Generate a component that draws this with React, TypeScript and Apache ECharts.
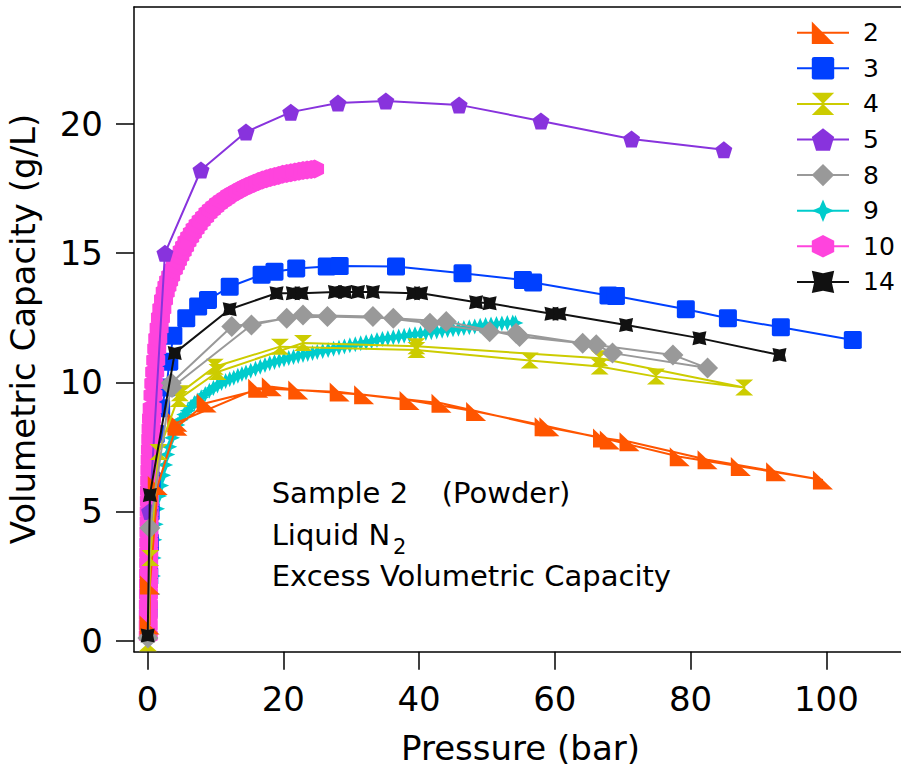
import React, { useEffect, useRef } from 'react';
import * as echarts from 'echarts';

// ---------- data ----------
const seriesNames = ['2', '3', '4', '5', '8', '9', '10', '14'];
const xTicks = [0, 20, 40, 60, 80, 100];
const yTicks = [0, 5, 10, 15, 20];

const s2: number[][] = [
  [0.3, 0.6], [0.35, 2.15], [1.5, 6.0], [4.4, 8.45], [16.3, 9.77], [28.3, 9.62], [38.6, 9.3],
  [48.4, 8.87], [59.2, 8.28], [68.1, 7.77], [78.4, 7.12], [87.4, 6.74], [99.5, 6.22],
  [92.6, 6.54], [82.5, 7.0], [71.0, 7.7], [67.1, 7.84], [58.5, 8.28], [43.3, 9.19],
  [31.9, 9.52], [22.2, 9.7], [18.3, 9.83], [8.7, 9.2], [4.4, 8.3],
];
const s3: number[][] = [
  [0.15, 1.2], [0.25, 2.5], [0.35, 3.8], [0.45, 5.0], [0.6, 6.2], [1.2, 8.0], [2.0, 9.0],
  [2.8, 9.8], [3.2, 10.8], [3.8, 11.8], [5.7, 12.48], [7.45, 12.93], [8.9, 13.19], [12.1, 13.7],
  [16.8, 14.16], [18.7, 14.28], [21.9, 14.41], [26.4, 14.48], [28.3, 14.5], [36.6, 14.48],
  [46.4, 14.22], [55.3, 13.96], [56.8, 13.86], [67.9, 13.36], [69.0, 13.34], [79.3, 12.83],
  [85.5, 12.48], [93.3, 12.13], [103.9, 11.64],
];
const s4: number[][] = [
  [0.05, -0.1], [0.4, 3.2], [1.6, 7.3], [4.75, 9.58], [9.9, 10.6], [19.5, 11.38], [39.6, 11.25],
  [56.3, 10.84], [66.6, 10.61], [74.9, 10.22], [87.9, 9.8], [66.6, 10.93], [39.6, 11.4],
  [22.9, 11.52], [10.3, 10.4], [4.6, 9.35],
];
const s5: number[][] = [
  [0.3, 5.0], [2.56, 15.0], [7.87, 18.22], [14.5, 19.69], [21.1, 20.46], [28.05, 20.81],
  [35.1, 20.89], [45.9, 20.74], [57.95, 20.12], [71.3, 19.42], [84.9, 19.0],
];
const s8: number[][] = [
  [0.05, 0.1], [0.34, 4.36], [3.5, 9.97], [12.4, 12.16], [20.5, 12.48], [26.5, 12.55],
  [36.2, 12.48], [44.0, 12.35], [54.8, 11.77], [66.1, 11.45], [68.5, 11.13], [82.5, 10.55],
  [77.4, 11.06], [64.1, 11.51], [54.3, 11.9], [50.4, 11.96], [41.6, 12.29], [33.2, 12.55],
  [22.9, 12.61], [15.3, 12.22], [3.6, 9.8],
];
const s9: number[][] = [
  [0.7, 1.8], [0.8, 2.5], [0.9, 3.2], [1.0, 3.9], [1.2, 4.5], [1.4, 5.1], [1.7, 5.6], [2.0, 6.0],
  [2.3, 6.4], [2.6, 6.8], [2.9, 7.2], [3.2, 7.5], [3.6, 7.85], [4.0, 8.1], [4.4, 8.35],
  [4.9, 8.55], [5.4, 8.75], [5.9, 8.9], [6.4, 9.05], [6.9, 9.2], [7.4, 9.3], [7.9, 9.42],
  [8.5, 9.55], [9.1, 9.67], [9.7, 9.78], [10.3, 9.88], [10.9, 9.97], [11.5, 10.05],
  [12.1, 10.12], [12.7, 10.18], [13.3, 10.25], [13.9, 10.32], [14.5, 10.38], [15.2, 10.45],
  [15.9, 10.52], [16.6, 10.6], [17.3, 10.67], [18.0, 10.74], [18.7, 10.79], [19.4, 10.84],
  [20.1, 10.89], [20.8, 10.94], [21.5, 10.98], [22.2, 11.02], [22.9, 11.06], [23.6, 11.1],
  [24.3, 11.13], [25.0, 11.17], [25.8, 11.21], [26.6, 11.25], [27.4, 11.3], [28.2, 11.34],
  [29.0, 11.39], [29.8, 11.43], [30.6, 11.47], [31.4, 11.51], [32.2, 11.55], [33.0, 11.59],
  [33.8, 11.64], [34.6, 11.68], [35.4, 11.71], [36.2, 11.74], [37.0, 11.77], [37.8, 11.8],
  [38.6, 11.83], [39.4, 11.86], [40.2, 11.88], [41.0, 11.91], [41.8, 11.94], [42.6, 11.97],
  [43.4, 12.0], [44.2, 12.02], [45.0, 12.05], [45.8, 12.07], [46.6, 12.1], [47.4, 12.13],
  [48.2, 12.16], [49.0, 12.19], [49.8, 12.22], [50.6, 12.24], [51.4, 12.26], [52.2, 12.28],
  [53.0, 12.3], [53.8, 12.32], [54.2, 12.3],
];
const s10: number[][] = [
  [0.1, 0.2], [0.1, 0.6], [0.11, 1.0], [0.12, 1.4], [0.13, 1.8], [0.14, 2.2], [0.15, 2.6],
  [0.16, 3.0], [0.17, 3.4], [0.18, 3.8], [0.2, 4.2], [0.22, 4.6], [0.24, 5.0], [0.26, 5.4],
  [0.28, 5.8], [0.31, 6.2], [0.34, 6.6], [0.38, 7.0], [0.42, 7.4], [0.47, 7.8], [0.52, 8.2],
  [0.58, 8.6], [0.68, 9.0], [0.8, 9.5], [0.92, 9.95], [1.05, 10.4], [1.2, 10.85], [1.35, 11.3],
  [1.5, 11.7], [1.7, 12.1], [1.9, 12.5], [2.1, 12.85], [2.35, 13.2], [2.6, 13.5], [2.85, 13.72],
  [3.1, 13.92], [3.4, 14.12], [3.8, 14.38], [4.1, 14.55], [4.4, 14.72], [4.75, 14.9],
  [5.1, 15.08], [5.45, 15.26], [5.8, 15.45], [6.2, 15.62], [6.6, 15.78], [7.0, 15.94],
  [7.45, 16.1], [7.9, 16.25], [8.4, 16.4], [8.9, 16.55], [9.4, 16.68], [9.9, 16.8],
  [10.45, 16.92], [11.0, 17.03], [11.55, 17.13], [12.1, 17.23], [12.7, 17.32], [13.3, 17.41],
  [13.9, 17.49], [14.5, 17.57], [15.1, 17.64], [15.7, 17.71], [16.3, 17.77], [16.9, 17.83],
  [17.5, 17.88], [18.1, 17.93], [18.7, 17.97], [19.3, 18.01], [19.9, 18.05], [20.5, 18.08],
  [21.1, 18.11], [21.7, 18.14], [22.3, 18.17], [22.9, 18.2], [23.5, 18.22], [24.1, 18.24],
  [24.6, 18.26],
];
const s14: number[][] = [
  [0.02, 0.2], [0.34, 5.64], [4.0, 11.13], [12.1, 12.83], [19.0, 13.45], [21.4, 13.45],
  [22.7, 13.45], [27.6, 13.5], [29.1, 13.5], [31.0, 13.5], [33.2, 13.5], [39.1, 13.45],
  [40.3, 13.45], [48.4, 13.1], [50.4, 13.06], [59.5, 12.65], [60.7, 12.65], [70.5, 12.22],
  [81.3, 11.71], [93.1, 11.06],
];

// ---------- styles ----------
const FONT = '"DejaVu Sans", "Noto Sans", sans-serif';
const SYM = {
  tri: 'path://M0,0L0,10L10,10Z',
  square: 'path://M1,0L9,0Q10,0 10,1L10,9Q10,10 9,10L1,10Q0,10 0,9L0,1Q0,0 1,0Z',
  hourglass: 'path://M0,0L10,0L5.6,4.4L5.6,5.6L10,10L0,10L4.4,5.6L4.4,4.4Z',
  pentagon: 'path://M5,0L10,3.8L8.1,9.8L1.9,9.8L0,3.8Z',
  diamond: 'path://M5,0L10,5L5,10L0,5Z',
  star: 'path://M5,0L6.5,3.5L10,5L6.5,6.5L5,10L3.5,6.5L0,5L3.5,3.5Z',
  hexagon: 'path://M5,0L10,2.5L10,7.5L5,10L0,7.5L0,2.5Z',
  xmark: 'path://M0,0L5,1.1L10,0L8.9,5L10,10L5,8.9L0,10L1.1,5Z',
};

function mkSeries(name: string, data: number[][], color: string, symbol: string, size: number | number[], z: number) {
  return {
    name,
    type: 'line',
    data,
    symbol,
    symbolSize: size,
    showSymbol: true,
    showAllSymbol: true,
    z,
    lineStyle: { color, width: 2 },
    itemStyle: { color, borderWidth: 0 },
    emphasis: { disabled: true },
  };
}

export default function App() {
  const ref = useRef<HTMLDivElement>(null);
  useEffect(() => {
    const chart = echarts.init(ref.current!, null, { renderer: 'svg' });
    const axisCommon = {
      type: 'value',
      splitLine: { show: false },
      axisLine: { show: true, onZero: false, lineStyle: { color: '#000', width: 1.5 } },
      axisTick: { show: true, inside: false, length: 18, lineStyle: { color: '#000', width: 1.5 } },
    };
    const option: any = {
      animation: false,
      backgroundColor: '#fff',
      textStyle: { fontFamily: FONT },
      grid: { left: 134, right: 0, top: 7, bottom: 119.3, containLabel: false, outerBoundsMode: 'none' },
      xAxis: [
        {
          ...axisCommon,
          position: 'bottom',
          min: -2,
          max: 111,
          axisTick: { ...axisCommon.axisTick, customValues: xTicks },
          axisLabel: { customValues: xTicks, fontSize: 34, color: '#000', fontFamily: FONT, margin: 30 },
        },
        {
          type: 'value',
          position: 'top',
          min: -2,
          max: 111,
          splitLine: { show: false },
          axisLine: { show: true, onZero: false, lineStyle: { color: '#000', width: 1.5 } },
          axisTick: { show: false },
          axisLabel: { show: false },
        },
      ],
      yAxis: {
        ...axisCommon,
        min: -0.43,
        max: 24.53,
        axisTick: { ...axisCommon.axisTick, customValues: yTicks },
        axisLabel: { customValues: yTicks, fontSize: 34, color: '#000', fontFamily: FONT, margin: 31 },
      },
      legend: {
        data: seriesNames,
        orient: 'vertical',
        left: 796,
        top: 18.7,
        padding: 0,
        itemWidth: 52,
        itemHeight: 28,
        itemGap: 7.6,
        selectedMode: false,
        textStyle: { fontSize: 25, color: '#000', fontFamily: FONT, lineHeight: 28, padding: [0, 0, 0, 9] },
      },
      graphic: [
        { type: 'text', x: 23, y: 329, rotation: Math.PI / 2, style: { text: 'Volumetric Capacity (g/L)', fontSize: 34, fontFamily: FONT, fill: '#000', align: 'center', verticalAlign: 'middle' } },
        { type: 'text', x: 520.5, y: 748, style: { text: 'Pressure (bar)', fontSize: 34, fontFamily: FONT, fill: '#000', align: 'center', verticalAlign: 'middle' } },
        { type: 'text', x: 271.7, y: 493, style: { text: 'Sample 2', fontSize: 29, fontFamily: FONT, fill: '#000', align: 'left', verticalAlign: 'middle' } },
        { type: 'text', x: 441.7, y: 493, style: { text: '(Powder)', fontSize: 29, fontFamily: FONT, fill: '#000', align: 'left', verticalAlign: 'middle' } },
        { type: 'text', x: 271.7, y: 535.3, style: { text: 'Liquid N', fontSize: 29, fontFamily: FONT, fill: '#000', align: 'left', verticalAlign: 'middle' } },
        { type: 'text', x: 393, y: 546.7, style: { text: '2', fontSize: 21, fontFamily: FONT, fill: '#000', align: 'left', verticalAlign: 'middle' } },
        { type: 'text', x: 271.7, y: 576.3, style: { text: 'Excess Volumetric Capacity', fontSize: 29, fontFamily: FONT, fill: '#000', align: 'left', verticalAlign: 'middle' } },
      ],
      series: [
        mkSeries('9', s9, '#00CCCC', SYM.star, 16, 2),
        mkSeries('3', s3, '#0040FF', SYM.square, 18, 3),
        mkSeries('10', s10, '#FF44DD', SYM.hexagon, 19, 4),
        mkSeries('5', s5, '#8833DD', SYM.pentagon, 17, 5),
        mkSeries('2', s2, '#FF5500', SYM.tri, [20, 19], 6),
        mkSeries('4', s4, '#CCCC00', SYM.hourglass, [18, 16], 7),
        mkSeries('8', s8, '#999999', SYM.diamond, 21, 8),
        mkSeries('14', s14, '#111111', SYM.xmark, 14, 9),
      ],
    };
    chart.setOption(option);
    return () => chart.dispose();
  }, []);
  return (
    <div
      ref={ref}
      style={{ position: 'absolute', left: 0, top: 0, width: 901, height: 771, background: '#fff' }}
    />
  );
}
